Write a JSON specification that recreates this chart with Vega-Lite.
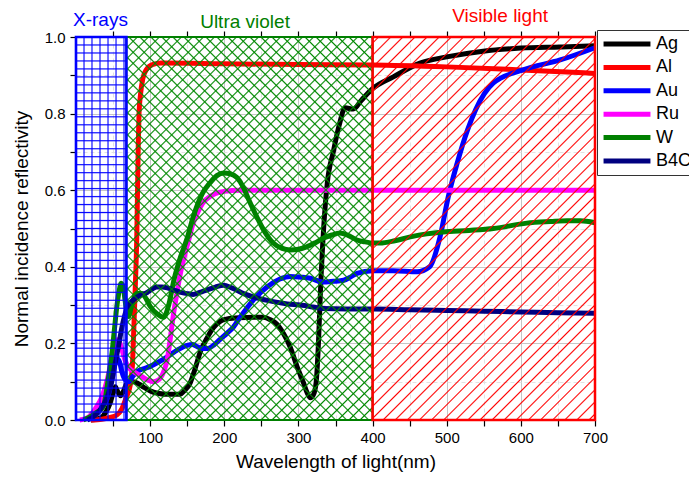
{
"$schema":"https://vega.github.io/schema/vega-lite/v6.json",
"width":519,"height":383,
"autosize":"none",
"padding":{"left":76,"top":37,"right":94,"bottom":58},
"background":"white",
"datasets":{
"curves":[
{"metal":"Ag","nm":20,"R":0},{"metal":"Ag","nm":33,"R":0.005},{"metal":"Ag","nm":40,"R":0.02},{"metal":"Ag","nm":46,"R":0.044},{"metal":"Ag","nm":50,"R":0.07},{"metal":"Ag","nm":53,"R":0.087},{"metal":"Ag","nm":56,"R":0.075},{"metal":"Ag","nm":60,"R":0.063},{"metal":"Ag","nm":64,"R":0.075},{"metal":"Ag","nm":69,"R":0.097},{"metal":"Ag","nm":77,"R":0.1},{"metal":"Ag","nm":84,"R":0.095},{"metal":"Ag","nm":91,"R":0.086},{"metal":"Ag","nm":100,"R":0.076},{"metal":"Ag","nm":110,"R":0.07},{"metal":"Ag","nm":125,"R":0.067},{"metal":"Ag","nm":140,"R":0.067},{"metal":"Ag","nm":147,"R":0.078},{"metal":"Ag","nm":154,"R":0.097},{"metal":"Ag","nm":160,"R":0.13},{"metal":"Ag","nm":168,"R":0.18},{"metal":"Ag","nm":177,"R":0.215},{"metal":"Ag","nm":185,"R":0.24},{"metal":"Ag","nm":195,"R":0.258},{"metal":"Ag","nm":204,"R":0.264},{"metal":"Ag","nm":220,"R":0.267},{"metal":"Ag","nm":240,"R":0.268},{"metal":"Ag","nm":253,"R":0.268},{"metal":"Ag","nm":262,"R":0.262},{"metal":"Ag","nm":271,"R":0.25},{"metal":"Ag","nm":280,"R":0.225},{"metal":"Ag","nm":289,"R":0.19},{"metal":"Ag","nm":298,"R":0.14},{"metal":"Ag","nm":307,"R":0.096},{"metal":"Ag","nm":312,"R":0.07},{"metal":"Ag","nm":316,"R":0.058},{"metal":"Ag","nm":320,"R":0.065},{"metal":"Ag","nm":324,"R":0.1},{"metal":"Ag","nm":327,"R":0.2},{"metal":"Ag","nm":330,"R":0.35},{"metal":"Ag","nm":334,"R":0.5},{"metal":"Ag","nm":339,"R":0.62},{"metal":"Ag","nm":347,"R":0.7},{"metal":"Ag","nm":355,"R":0.77},{"metal":"Ag","nm":363,"R":0.815},{"metal":"Ag","nm":374,"R":0.812},{"metal":"Ag","nm":385,"R":0.835},{"metal":"Ag","nm":400,"R":0.865},{"metal":"Ag","nm":428,"R":0.896},{"metal":"Ag","nm":464,"R":0.932},{"metal":"Ag","nm":500,"R":0.948},{"metal":"Ag","nm":549,"R":0.963},{"metal":"Ag","nm":600,"R":0.971},{"metal":"Ag","nm":653,"R":0.974},{"metal":"Ag","nm":700,"R":0.977},
{"metal":"Al","nm":20,"R":0},{"metal":"Al","nm":35,"R":0.002},{"metal":"Al","nm":45,"R":0.006},{"metal":"Al","nm":55,"R":0.013},{"metal":"Al","nm":62,"R":0.03},{"metal":"Al","nm":68,"R":0.06},{"metal":"Al","nm":73,"R":0.09},{"metal":"Al","nm":76,"R":0.14},{"metal":"Al","nm":78,"R":0.24},{"metal":"Al","nm":80,"R":0.35},{"metal":"Al","nm":82,"R":0.48},{"metal":"Al","nm":83,"R":0.6},{"metal":"Al","nm":84,"R":0.72},{"metal":"Al","nm":85,"R":0.8},{"metal":"Al","nm":87,"R":0.85},{"metal":"Al","nm":90,"R":0.89},{"metal":"Al","nm":95,"R":0.915},{"metal":"Al","nm":103,"R":0.928},{"metal":"Al","nm":115,"R":0.932},{"metal":"Al","nm":200,"R":0.93},{"metal":"Al","nm":300,"R":0.928},{"metal":"Al","nm":400,"R":0.927},{"metal":"Al","nm":500,"R":0.922},{"metal":"Al","nm":600,"R":0.914},{"metal":"Al","nm":700,"R":0.905},
{"metal":"Au","nm":15,"R":0},{"metal":"Au","nm":20,"R":0.008},{"metal":"Au","nm":30,"R":0.025},{"metal":"Au","nm":42,"R":0.055},{"metal":"Au","nm":48,"R":0.1},{"metal":"Au","nm":53,"R":0.15},{"metal":"Au","nm":56,"R":0.16},{"metal":"Au","nm":59,"R":0.15},{"metal":"Au","nm":62,"R":0.125},{"metal":"Au","nm":66,"R":0.106},{"metal":"Au","nm":71,"R":0.1},{"metal":"Au","nm":77,"R":0.115},{"metal":"Au","nm":82,"R":0.126},{"metal":"Au","nm":90,"R":0.133},{"metal":"Au","nm":100,"R":0.14},{"metal":"Au","nm":112,"R":0.152},{"metal":"Au","nm":123,"R":0.165},{"metal":"Au","nm":137,"R":0.183},{"metal":"Au","nm":150,"R":0.195},{"metal":"Au","nm":157,"R":0.197},{"metal":"Au","nm":163,"R":0.192},{"metal":"Au","nm":170,"R":0.187},{"metal":"Au","nm":178,"R":0.187},{"metal":"Au","nm":186,"R":0.196},{"metal":"Au","nm":194,"R":0.21},{"metal":"Au","nm":204,"R":0.227},{"metal":"Au","nm":212,"R":0.242},{"metal":"Au","nm":222,"R":0.27},{"metal":"Au","nm":240,"R":0.315},{"metal":"Au","nm":258,"R":0.348},{"metal":"Au","nm":275,"R":0.368},{"metal":"Au","nm":289,"R":0.375},{"metal":"Au","nm":303,"R":0.373},{"metal":"Au","nm":316,"R":0.37},{"metal":"Au","nm":333,"R":0.36},{"metal":"Au","nm":347,"R":0.362},{"metal":"Au","nm":361,"R":0.365},{"metal":"Au","nm":370,"R":0.373},{"metal":"Au","nm":379,"R":0.383},{"metal":"Au","nm":400,"R":0.39},{"metal":"Au","nm":428,"R":0.39},{"metal":"Au","nm":460,"R":0.387},{"metal":"Au","nm":477,"R":0.4},{"metal":"Au","nm":491,"R":0.478},{"metal":"Au","nm":502,"R":0.582},{"metal":"Au","nm":514,"R":0.67},{"metal":"Au","nm":528,"R":0.757},{"metal":"Au","nm":539,"R":0.81},{"metal":"Au","nm":563,"R":0.88},{"metal":"Au","nm":603,"R":0.914},{"metal":"Au","nm":653,"R":0.94},{"metal":"Au","nm":700,"R":0.972},
{"metal":"Ru","nm":5,"R":0},{"metal":"Ru","nm":15,"R":0.005},{"metal":"Ru","nm":28,"R":0.035},{"metal":"Ru","nm":35,"R":0.06},{"metal":"Ru","nm":42,"R":0.104},{"metal":"Ru","nm":46,"R":0.14},{"metal":"Ru","nm":50,"R":0.18},{"metal":"Ru","nm":54,"R":0.205},{"metal":"Ru","nm":57,"R":0.21},{"metal":"Ru","nm":61,"R":0.19},{"metal":"Ru","nm":66,"R":0.157},{"metal":"Ru","nm":70,"R":0.14},{"metal":"Ru","nm":75,"R":0.13},{"metal":"Ru","nm":86,"R":0.117},{"metal":"Ru","nm":96,"R":0.105},{"metal":"Ru","nm":104,"R":0.1},{"metal":"Ru","nm":110,"R":0.103},{"metal":"Ru","nm":114,"R":0.11},{"metal":"Ru","nm":119,"R":0.13},{"metal":"Ru","nm":123,"R":0.157},{"metal":"Ru","nm":127,"R":0.21},{"metal":"Ru","nm":131,"R":0.27},{"metal":"Ru","nm":136,"R":0.33},{"metal":"Ru","nm":140,"R":0.375},{"metal":"Ru","nm":145,"R":0.418},{"metal":"Ru","nm":152,"R":0.47},{"metal":"Ru","nm":158,"R":0.514},{"metal":"Ru","nm":165,"R":0.545},{"metal":"Ru","nm":171,"R":0.566},{"metal":"Ru","nm":182,"R":0.585},{"metal":"Ru","nm":194,"R":0.595},{"metal":"Ru","nm":210,"R":0.599},{"metal":"Ru","nm":222,"R":0.6},{"metal":"Ru","nm":300,"R":0.6},{"metal":"Ru","nm":400,"R":0.6},{"metal":"Ru","nm":500,"R":0.6},{"metal":"Ru","nm":600,"R":0.6},{"metal":"Ru","nm":700,"R":0.6},
{"metal":"W","nm":10,"R":0},{"metal":"W","nm":19,"R":0.008},{"metal":"W","nm":28,"R":0.02},{"metal":"W","nm":37,"R":0.035},{"metal":"W","nm":43,"R":0.1},{"metal":"W","nm":49,"R":0.183},{"metal":"W","nm":52,"R":0.24},{"metal":"W","nm":55,"R":0.295},{"metal":"W","nm":58,"R":0.335},{"metal":"W","nm":61,"R":0.357},{"metal":"W","nm":64,"R":0.345},{"metal":"W","nm":66,"R":0.315},{"metal":"W","nm":68,"R":0.29},{"metal":"W","nm":71,"R":0.27},{"metal":"W","nm":74,"R":0.29},{"metal":"W","nm":77,"R":0.313},{"metal":"W","nm":83,"R":0.33},{"metal":"W","nm":89,"R":0.33},{"metal":"W","nm":95,"R":0.315},{"metal":"W","nm":100,"R":0.297},{"metal":"W","nm":110,"R":0.276},{"metal":"W","nm":118,"R":0.268},{"metal":"W","nm":125,"R":0.3},{"metal":"W","nm":132,"R":0.365},{"metal":"W","nm":140,"R":0.42},{"metal":"W","nm":150,"R":0.475},{"metal":"W","nm":158,"R":0.53},{"metal":"W","nm":170,"R":0.59},{"metal":"W","nm":181,"R":0.62},{"metal":"W","nm":190,"R":0.638},{"metal":"W","nm":199,"R":0.645},{"metal":"W","nm":208,"R":0.643},{"metal":"W","nm":217,"R":0.633},{"metal":"W","nm":225,"R":0.61},{"metal":"W","nm":233,"R":0.575},{"metal":"W","nm":244,"R":0.53},{"metal":"W","nm":255,"R":0.49},{"metal":"W","nm":266,"R":0.462},{"metal":"W","nm":278,"R":0.448},{"metal":"W","nm":289,"R":0.444},{"metal":"W","nm":300,"R":0.446},{"metal":"W","nm":311,"R":0.452},{"metal":"W","nm":323,"R":0.463},{"metal":"W","nm":334,"R":0.475},{"metal":"W","nm":345,"R":0.483},{"metal":"W","nm":356,"R":0.488},{"metal":"W","nm":367,"R":0.482},{"metal":"W","nm":379,"R":0.47},{"metal":"W","nm":390,"R":0.465},{"metal":"W","nm":401,"R":0.462},{"metal":"W","nm":410,"R":0.462},{"metal":"W","nm":430,"R":0.468},{"metal":"W","nm":451,"R":0.478},{"metal":"W","nm":473,"R":0.486},{"metal":"W","nm":495,"R":0.491},{"metal":"W","nm":530,"R":0.495},{"metal":"W","nm":563,"R":0.5},{"metal":"W","nm":608,"R":0.514},{"metal":"W","nm":640,"R":0.518},{"metal":"W","nm":662,"R":0.52},{"metal":"W","nm":680,"R":0.52},{"metal":"W","nm":700,"R":0.515},
{"metal":"B4C","nm":15,"R":0},{"metal":"B4C","nm":23,"R":0.008},{"metal":"B4C","nm":32,"R":0.025},{"metal":"B4C","nm":42,"R":0.06},{"metal":"B4C","nm":48,"R":0.1},{"metal":"B4C","nm":53,"R":0.15},{"metal":"B4C","nm":58,"R":0.2},{"metal":"B4C","nm":62,"R":0.243},{"metal":"B4C","nm":66,"R":0.275},{"metal":"B4C","nm":69,"R":0.295},{"metal":"B4C","nm":73,"R":0.306},{"metal":"B4C","nm":77,"R":0.313},{"metal":"B4C","nm":86,"R":0.325},{"metal":"B4C","nm":96,"R":0.333},{"metal":"B4C","nm":103,"R":0.342},{"metal":"B4C","nm":109,"R":0.347},{"metal":"B4C","nm":116,"R":0.347},{"metal":"B4C","nm":123,"R":0.345},{"metal":"B4C","nm":131,"R":0.34},{"metal":"B4C","nm":140,"R":0.334},{"metal":"B4C","nm":150,"R":0.33},{"metal":"B4C","nm":158,"R":0.328},{"metal":"B4C","nm":167,"R":0.333},{"metal":"B4C","nm":177,"R":0.34},{"metal":"B4C","nm":188,"R":0.347},{"metal":"B4C","nm":199,"R":0.352},{"metal":"B4C","nm":210,"R":0.345},{"metal":"B4C","nm":226,"R":0.33},{"metal":"B4C","nm":245,"R":0.318},{"metal":"B4C","nm":266,"R":0.309},{"metal":"B4C","nm":285,"R":0.303},{"metal":"B4C","nm":302,"R":0.3},{"metal":"B4C","nm":320,"R":0.295},{"metal":"B4C","nm":333,"R":0.291},{"metal":"B4C","nm":365,"R":0.29},{"metal":"B4C","nm":401,"R":0.29},{"metal":"B4C","nm":450,"R":0.288},{"metal":"B4C","nm":500,"R":0.286},{"metal":"B4C","nm":550,"R":0.284},{"metal":"B4C","nm":600,"R":0.282},{"metal":"B4C","nm":650,"R":0.28},{"metal":"B4C","nm":700,"R":0.279}
],
"regions":[
{"region":"X-rays","start":0,"end":68,"lx":33,"ly":1.045},
{"region":"Ultra violet","start":68,"end":400,"lx":228,"ly":1.04},
{"region":"Visible light","start":400,"end":700,"lx":572,"ly":1.055}
]
},
"layer":[
{
"data":{"name":"curves"},
"mark":{"type":"line","strokeWidth":5,"interpolate":"monotone"},
"encoding":{
"x":{"field":"nm","type":"quantitative","scale":{"domain":[0,700],"nice":false},
"axis":{"orient":"bottom","values":[50,100,150,200,250,300,350,400,450,500,550,600,650,700],"labelExpr":"datum.value % 100 === 0 ? datum.label : ''","title":"Wavelength of light(nm)","titlePadding":7,"labelPadding":4,"tickSize":6,
"grid":true,"gridColor":{"condition":{"test":"datum.value % 100 !== 0","value":"#e2e2e2"},"value":"#c6c6c6"},"gridDash":{"condition":{"test":"datum.value % 100 !== 0","value":[4,3]},"value":[]}}},
"y":{"field":"R","type":"quantitative","scale":{"domain":[0,1],"nice":false},
"axis":{"orient":"left","values":[0,0.1,0.2,0.3,0.4,0.5,0.6,0.7,0.8,0.9,1],"labelExpr":"round(datum.value*10) % 2 === 0 ? format(datum.value, '.1f') : ''","title":"Normal incidence reflectivity","titlePadding":13,"labelPadding":5,"tickSize":6,
"grid":true,"gridColor":{"condition":{"test":"round(datum.value*10) % 2 !== 0","value":"#e2e2e2"},"value":"#c6c6c6"},"gridDash":{"condition":{"test":"round(datum.value*10) % 2 !== 0","value":[4,3]},"value":[]}}},
"color":{"field":"metal","type":"nominal","scale":{"domain":["Ag","Al","Au","Ru","W","B4C"],"range":["#000000","#ff0000","#0000ff","#ff00ff","#008000","#000080"]},
"legend":{"orient":"none","legendX":521,"legendY":-7,"title":null,"symbolType":"stroke","symbolSize":2200,"symbolStrokeWidth":5,"labelFontSize":18,"labelColor":"#000","labelOffset":3,"strokeColor":"#333","fillColor":"white","padding":4,"clipHeight":20,"rowPadding":3.4}}
}
},
{
"data":{"name":"regions"},
"transform":[{"filter":"datum.region === 'Ultra violet'"}],
"mark":{"type":"rect","strokeWidth":0,"fill":{"gradient":"linear","x1":0,"y1":0,"x2":0.7473,"y2":1.1625,"stops":[
{"offset":0.015,"color":"#0800"},{"offset":0.0175,"color":"#080"},{"offset":0.02,"color":"#0800"},
{"offset":0.0325,"color":"#0800"},{"offset":0.035,"color":"#080"},{"offset":0.0375,"color":"#0800"},
{"offset":0.05,"color":"#0800"},{"offset":0.0525,"color":"#080"},{"offset":0.055,"color":"#0800"},
{"offset":0.0675,"color":"#0800"},{"offset":0.07,"color":"#080"},{"offset":0.0725,"color":"#0800"},
{"offset":0.085,"color":"#0800"},{"offset":0.0875,"color":"#080"},{"offset":0.09,"color":"#0800"},
{"offset":0.1025,"color":"#0800"},{"offset":0.105,"color":"#080"},{"offset":0.1075,"color":"#0800"},
{"offset":0.12,"color":"#0800"},{"offset":0.1225,"color":"#080"},{"offset":0.125,"color":"#0800"},
{"offset":0.1375,"color":"#0800"},{"offset":0.14,"color":"#080"},{"offset":0.1425,"color":"#0800"},
{"offset":0.155,"color":"#0800"},{"offset":0.1575,"color":"#080"},{"offset":0.16,"color":"#0800"},
{"offset":0.1725,"color":"#0800"},{"offset":0.175,"color":"#080"},{"offset":0.1775,"color":"#0800"},
{"offset":0.19,"color":"#0800"},{"offset":0.1925,"color":"#080"},{"offset":0.195,"color":"#0800"},
{"offset":0.2075,"color":"#0800"},{"offset":0.21,"color":"#080"},{"offset":0.2125,"color":"#0800"},
{"offset":0.225,"color":"#0800"},{"offset":0.2275,"color":"#080"},{"offset":0.23,"color":"#0800"},
{"offset":0.2425,"color":"#0800"},{"offset":0.245,"color":"#080"},{"offset":0.2475,"color":"#0800"},
{"offset":0.26,"color":"#0800"},{"offset":0.2625,"color":"#080"},{"offset":0.265,"color":"#0800"},
{"offset":0.2775,"color":"#0800"},{"offset":0.28,"color":"#080"},{"offset":0.2825,"color":"#0800"},
{"offset":0.295,"color":"#0800"},{"offset":0.2975,"color":"#080"},{"offset":0.3,"color":"#0800"},
{"offset":0.3125,"color":"#0800"},{"offset":0.315,"color":"#080"},{"offset":0.3175,"color":"#0800"},
{"offset":0.33,"color":"#0800"},{"offset":0.3325,"color":"#080"},{"offset":0.335,"color":"#0800"},
{"offset":0.3475,"color":"#0800"},{"offset":0.35,"color":"#080"},{"offset":0.3525,"color":"#0800"},
{"offset":0.365,"color":"#0800"},{"offset":0.3675,"color":"#080"},{"offset":0.37,"color":"#0800"},
{"offset":0.3825,"color":"#0800"},{"offset":0.385,"color":"#080"},{"offset":0.3875,"color":"#0800"},
{"offset":0.4,"color":"#0800"},{"offset":0.4025,"color":"#080"},{"offset":0.405,"color":"#0800"},
{"offset":0.4175,"color":"#0800"},{"offset":0.42,"color":"#080"},{"offset":0.4225,"color":"#0800"},
{"offset":0.435,"color":"#0800"},{"offset":0.4375,"color":"#080"},{"offset":0.44,"color":"#0800"},
{"offset":0.4525,"color":"#0800"},{"offset":0.455,"color":"#080"},{"offset":0.4575,"color":"#0800"},
{"offset":0.47,"color":"#0800"},{"offset":0.4725,"color":"#080"},{"offset":0.475,"color":"#0800"},
{"offset":0.4875,"color":"#0800"},{"offset":0.49,"color":"#080"},{"offset":0.4925,"color":"#0800"},
{"offset":0.505,"color":"#0800"},{"offset":0.5075,"color":"#080"},{"offset":0.51,"color":"#0800"},
{"offset":0.5225,"color":"#0800"},{"offset":0.525,"color":"#080"},{"offset":0.5275,"color":"#0800"},
{"offset":0.54,"color":"#0800"},{"offset":0.5425,"color":"#080"},{"offset":0.545,"color":"#0800"},
{"offset":0.5575,"color":"#0800"},{"offset":0.56,"color":"#080"},{"offset":0.5625,"color":"#0800"},
{"offset":0.575,"color":"#0800"},{"offset":0.5775,"color":"#080"},{"offset":0.58,"color":"#0800"},
{"offset":0.5925,"color":"#0800"},{"offset":0.595,"color":"#080"},{"offset":0.5975,"color":"#0800"},
{"offset":0.61,"color":"#0800"},{"offset":0.6125,"color":"#080"},{"offset":0.615,"color":"#0800"},
{"offset":0.6275,"color":"#0800"},{"offset":0.63,"color":"#080"},{"offset":0.6325,"color":"#0800"},
{"offset":0.645,"color":"#0800"},{"offset":0.6475,"color":"#080"},{"offset":0.65,"color":"#0800"},
{"offset":0.6625,"color":"#0800"},{"offset":0.665,"color":"#080"},{"offset":0.6675,"color":"#0800"},
{"offset":0.68,"color":"#0800"},{"offset":0.6825,"color":"#080"},{"offset":0.685,"color":"#0800"},
{"offset":0.6975,"color":"#0800"},{"offset":0.7,"color":"#080"},{"offset":0.7025,"color":"#0800"},
{"offset":0.715,"color":"#0800"},{"offset":0.7175,"color":"#080"},{"offset":0.72,"color":"#0800"},
{"offset":0.7325,"color":"#0800"},{"offset":0.735,"color":"#080"},{"offset":0.7375,"color":"#0800"},
{"offset":0.75,"color":"#0800"},{"offset":0.7525,"color":"#080"},{"offset":0.755,"color":"#0800"},
{"offset":0.7675,"color":"#0800"},{"offset":0.77,"color":"#080"},{"offset":0.7725,"color":"#0800"},
{"offset":0.785,"color":"#0800"},{"offset":0.7875,"color":"#080"},{"offset":0.79,"color":"#0800"},
{"offset":0.8025,"color":"#0800"},{"offset":0.805,"color":"#080"},{"offset":0.8075,"color":"#0800"},
{"offset":0.82,"color":"#0800"},{"offset":0.8225,"color":"#080"},{"offset":0.825,"color":"#0800"},
{"offset":0.8375,"color":"#0800"},{"offset":0.84,"color":"#080"},{"offset":0.8425,"color":"#0800"},
{"offset":0.855,"color":"#0800"},{"offset":0.8575,"color":"#080"},{"offset":0.86,"color":"#0800"},
{"offset":0.8725,"color":"#0800"},{"offset":0.875,"color":"#080"},{"offset":0.8775,"color":"#0800"},
{"offset":0.89,"color":"#0800"},{"offset":0.8925,"color":"#080"},{"offset":0.895,"color":"#0800"},
{"offset":0.9075,"color":"#0800"},{"offset":0.91,"color":"#080"},{"offset":0.9125,"color":"#0800"},
{"offset":0.925,"color":"#0800"},{"offset":0.9275,"color":"#080"},{"offset":0.93,"color":"#0800"},
{"offset":0.9425,"color":"#0800"},{"offset":0.945,"color":"#080"},{"offset":0.9475,"color":"#0800"},
{"offset":0.96,"color":"#0800"},{"offset":0.9625,"color":"#080"},{"offset":0.965,"color":"#0800"},
{"offset":0.9775,"color":"#0800"},{"offset":0.98,"color":"#080"},{"offset":0.9825,"color":"#0800"},
{"offset":0.995,"color":"#0800"},{"offset":0.9975,"color":"#080"},{"offset":1,"color":"#0800"}
]}},
"encoding":{
"x":{"field":"start","type":"quantitative","scale":{"domain":[0,700],"nice":false},"axis":null},
"x2":{"field":"end"},
"y":{"datum":0,"type":"quantitative","scale":{"domain":[0,1],"nice":false},"axis":null},
"y2":{"datum":1}
}
},
{
"data":{"name":"regions"},
"transform":[{"filter":"datum.region === 'Ultra violet'"}],
"mark":{"type":"rect","stroke":"#008000","strokeWidth":1.8,"fill":{"gradient":"linear","x1":0,"y1":1,"x2":0.7473,"y2":-0.1625,"stops":[
{"offset":0.015,"color":"#0800"},{"offset":0.0175,"color":"#080"},{"offset":0.02,"color":"#0800"},
{"offset":0.0325,"color":"#0800"},{"offset":0.035,"color":"#080"},{"offset":0.0375,"color":"#0800"},
{"offset":0.05,"color":"#0800"},{"offset":0.0525,"color":"#080"},{"offset":0.055,"color":"#0800"},
{"offset":0.0675,"color":"#0800"},{"offset":0.07,"color":"#080"},{"offset":0.0725,"color":"#0800"},
{"offset":0.085,"color":"#0800"},{"offset":0.0875,"color":"#080"},{"offset":0.09,"color":"#0800"},
{"offset":0.1025,"color":"#0800"},{"offset":0.105,"color":"#080"},{"offset":0.1075,"color":"#0800"},
{"offset":0.12,"color":"#0800"},{"offset":0.1225,"color":"#080"},{"offset":0.125,"color":"#0800"},
{"offset":0.1375,"color":"#0800"},{"offset":0.14,"color":"#080"},{"offset":0.1425,"color":"#0800"},
{"offset":0.155,"color":"#0800"},{"offset":0.1575,"color":"#080"},{"offset":0.16,"color":"#0800"},
{"offset":0.1725,"color":"#0800"},{"offset":0.175,"color":"#080"},{"offset":0.1775,"color":"#0800"},
{"offset":0.19,"color":"#0800"},{"offset":0.1925,"color":"#080"},{"offset":0.195,"color":"#0800"},
{"offset":0.2075,"color":"#0800"},{"offset":0.21,"color":"#080"},{"offset":0.2125,"color":"#0800"},
{"offset":0.225,"color":"#0800"},{"offset":0.2275,"color":"#080"},{"offset":0.23,"color":"#0800"},
{"offset":0.2425,"color":"#0800"},{"offset":0.245,"color":"#080"},{"offset":0.2475,"color":"#0800"},
{"offset":0.26,"color":"#0800"},{"offset":0.2625,"color":"#080"},{"offset":0.265,"color":"#0800"},
{"offset":0.2775,"color":"#0800"},{"offset":0.28,"color":"#080"},{"offset":0.2825,"color":"#0800"},
{"offset":0.295,"color":"#0800"},{"offset":0.2975,"color":"#080"},{"offset":0.3,"color":"#0800"},
{"offset":0.3125,"color":"#0800"},{"offset":0.315,"color":"#080"},{"offset":0.3175,"color":"#0800"},
{"offset":0.33,"color":"#0800"},{"offset":0.3325,"color":"#080"},{"offset":0.335,"color":"#0800"},
{"offset":0.3475,"color":"#0800"},{"offset":0.35,"color":"#080"},{"offset":0.3525,"color":"#0800"},
{"offset":0.365,"color":"#0800"},{"offset":0.3675,"color":"#080"},{"offset":0.37,"color":"#0800"},
{"offset":0.3825,"color":"#0800"},{"offset":0.385,"color":"#080"},{"offset":0.3875,"color":"#0800"},
{"offset":0.4,"color":"#0800"},{"offset":0.4025,"color":"#080"},{"offset":0.405,"color":"#0800"},
{"offset":0.4175,"color":"#0800"},{"offset":0.42,"color":"#080"},{"offset":0.4225,"color":"#0800"},
{"offset":0.435,"color":"#0800"},{"offset":0.4375,"color":"#080"},{"offset":0.44,"color":"#0800"},
{"offset":0.4525,"color":"#0800"},{"offset":0.455,"color":"#080"},{"offset":0.4575,"color":"#0800"},
{"offset":0.47,"color":"#0800"},{"offset":0.4725,"color":"#080"},{"offset":0.475,"color":"#0800"},
{"offset":0.4875,"color":"#0800"},{"offset":0.49,"color":"#080"},{"offset":0.4925,"color":"#0800"},
{"offset":0.505,"color":"#0800"},{"offset":0.5075,"color":"#080"},{"offset":0.51,"color":"#0800"},
{"offset":0.5225,"color":"#0800"},{"offset":0.525,"color":"#080"},{"offset":0.5275,"color":"#0800"},
{"offset":0.54,"color":"#0800"},{"offset":0.5425,"color":"#080"},{"offset":0.545,"color":"#0800"},
{"offset":0.5575,"color":"#0800"},{"offset":0.56,"color":"#080"},{"offset":0.5625,"color":"#0800"},
{"offset":0.575,"color":"#0800"},{"offset":0.5775,"color":"#080"},{"offset":0.58,"color":"#0800"},
{"offset":0.5925,"color":"#0800"},{"offset":0.595,"color":"#080"},{"offset":0.5975,"color":"#0800"},
{"offset":0.61,"color":"#0800"},{"offset":0.6125,"color":"#080"},{"offset":0.615,"color":"#0800"},
{"offset":0.6275,"color":"#0800"},{"offset":0.63,"color":"#080"},{"offset":0.6325,"color":"#0800"},
{"offset":0.645,"color":"#0800"},{"offset":0.6475,"color":"#080"},{"offset":0.65,"color":"#0800"},
{"offset":0.6625,"color":"#0800"},{"offset":0.665,"color":"#080"},{"offset":0.6675,"color":"#0800"},
{"offset":0.68,"color":"#0800"},{"offset":0.6825,"color":"#080"},{"offset":0.685,"color":"#0800"},
{"offset":0.6975,"color":"#0800"},{"offset":0.7,"color":"#080"},{"offset":0.7025,"color":"#0800"},
{"offset":0.715,"color":"#0800"},{"offset":0.7175,"color":"#080"},{"offset":0.72,"color":"#0800"},
{"offset":0.7325,"color":"#0800"},{"offset":0.735,"color":"#080"},{"offset":0.7375,"color":"#0800"},
{"offset":0.75,"color":"#0800"},{"offset":0.7525,"color":"#080"},{"offset":0.755,"color":"#0800"},
{"offset":0.7675,"color":"#0800"},{"offset":0.77,"color":"#080"},{"offset":0.7725,"color":"#0800"},
{"offset":0.785,"color":"#0800"},{"offset":0.7875,"color":"#080"},{"offset":0.79,"color":"#0800"},
{"offset":0.8025,"color":"#0800"},{"offset":0.805,"color":"#080"},{"offset":0.8075,"color":"#0800"},
{"offset":0.82,"color":"#0800"},{"offset":0.8225,"color":"#080"},{"offset":0.825,"color":"#0800"},
{"offset":0.8375,"color":"#0800"},{"offset":0.84,"color":"#080"},{"offset":0.8425,"color":"#0800"},
{"offset":0.855,"color":"#0800"},{"offset":0.8575,"color":"#080"},{"offset":0.86,"color":"#0800"},
{"offset":0.8725,"color":"#0800"},{"offset":0.875,"color":"#080"},{"offset":0.8775,"color":"#0800"},
{"offset":0.89,"color":"#0800"},{"offset":0.8925,"color":"#080"},{"offset":0.895,"color":"#0800"},
{"offset":0.9075,"color":"#0800"},{"offset":0.91,"color":"#080"},{"offset":0.9125,"color":"#0800"},
{"offset":0.925,"color":"#0800"},{"offset":0.9275,"color":"#080"},{"offset":0.93,"color":"#0800"},
{"offset":0.9425,"color":"#0800"},{"offset":0.945,"color":"#080"},{"offset":0.9475,"color":"#0800"},
{"offset":0.96,"color":"#0800"},{"offset":0.9625,"color":"#080"},{"offset":0.965,"color":"#0800"},
{"offset":0.9775,"color":"#0800"},{"offset":0.98,"color":"#080"},{"offset":0.9825,"color":"#0800"},
{"offset":0.995,"color":"#0800"},{"offset":0.9975,"color":"#080"},{"offset":1,"color":"#0800"}
]}},
"encoding":{
"x":{"field":"start","type":"quantitative","scale":{"domain":[0,700],"nice":false},"axis":null},
"x2":{"field":"end"},
"y":{"datum":0,"type":"quantitative","scale":{"domain":[0,1],"nice":false},"axis":null},
"y2":{"datum":1}
}
},
{
"data":{"name":"regions"},
"transform":[{"filter":"datum.region === 'Visible light'"}],
"mark":{"type":"rect","stroke":"#ff0000","strokeWidth":2.5,"fill":{"gradient":"linear","x1":0,"y1":0,"x2":0.6864,"y2":1.1821,"stops":[
{"offset":0.0075,"color":"#f000"},{"offset":0.01,"color":"#f00"},{"offset":0.0125,"color":"#f000"},
{"offset":0.0275,"color":"#f000"},{"offset":0.03,"color":"#f00"},{"offset":0.0325,"color":"#f000"},
{"offset":0.0475,"color":"#f000"},{"offset":0.05,"color":"#f00"},{"offset":0.0525,"color":"#f000"},
{"offset":0.0675,"color":"#f000"},{"offset":0.07,"color":"#f00"},{"offset":0.0725,"color":"#f000"},
{"offset":0.0875,"color":"#f000"},{"offset":0.09,"color":"#f00"},{"offset":0.0925,"color":"#f000"},
{"offset":0.1075,"color":"#f000"},{"offset":0.11,"color":"#f00"},{"offset":0.1125,"color":"#f000"},
{"offset":0.1275,"color":"#f000"},{"offset":0.13,"color":"#f00"},{"offset":0.1325,"color":"#f000"},
{"offset":0.1475,"color":"#f000"},{"offset":0.15,"color":"#f00"},{"offset":0.1525,"color":"#f000"},
{"offset":0.1675,"color":"#f000"},{"offset":0.17,"color":"#f00"},{"offset":0.1725,"color":"#f000"},
{"offset":0.1875,"color":"#f000"},{"offset":0.19,"color":"#f00"},{"offset":0.1925,"color":"#f000"},
{"offset":0.2075,"color":"#f000"},{"offset":0.21,"color":"#f00"},{"offset":0.2125,"color":"#f000"},
{"offset":0.2275,"color":"#f000"},{"offset":0.23,"color":"#f00"},{"offset":0.2325,"color":"#f000"},
{"offset":0.2475,"color":"#f000"},{"offset":0.25,"color":"#f00"},{"offset":0.2525,"color":"#f000"},
{"offset":0.2675,"color":"#f000"},{"offset":0.27,"color":"#f00"},{"offset":0.2725,"color":"#f000"},
{"offset":0.2875,"color":"#f000"},{"offset":0.29,"color":"#f00"},{"offset":0.2925,"color":"#f000"},
{"offset":0.3075,"color":"#f000"},{"offset":0.31,"color":"#f00"},{"offset":0.3125,"color":"#f000"},
{"offset":0.3275,"color":"#f000"},{"offset":0.33,"color":"#f00"},{"offset":0.3325,"color":"#f000"},
{"offset":0.3475,"color":"#f000"},{"offset":0.35,"color":"#f00"},{"offset":0.3525,"color":"#f000"},
{"offset":0.3675,"color":"#f000"},{"offset":0.37,"color":"#f00"},{"offset":0.3725,"color":"#f000"},
{"offset":0.3875,"color":"#f000"},{"offset":0.39,"color":"#f00"},{"offset":0.3925,"color":"#f000"},
{"offset":0.4075,"color":"#f000"},{"offset":0.41,"color":"#f00"},{"offset":0.4125,"color":"#f000"},
{"offset":0.4275,"color":"#f000"},{"offset":0.43,"color":"#f00"},{"offset":0.4325,"color":"#f000"},
{"offset":0.4475,"color":"#f000"},{"offset":0.45,"color":"#f00"},{"offset":0.4525,"color":"#f000"},
{"offset":0.4675,"color":"#f000"},{"offset":0.47,"color":"#f00"},{"offset":0.4725,"color":"#f000"},
{"offset":0.4875,"color":"#f000"},{"offset":0.49,"color":"#f00"},{"offset":0.4925,"color":"#f000"},
{"offset":0.5075,"color":"#f000"},{"offset":0.51,"color":"#f00"},{"offset":0.5125,"color":"#f000"},
{"offset":0.5275,"color":"#f000"},{"offset":0.53,"color":"#f00"},{"offset":0.5325,"color":"#f000"},
{"offset":0.5475,"color":"#f000"},{"offset":0.55,"color":"#f00"},{"offset":0.5525,"color":"#f000"},
{"offset":0.5675,"color":"#f000"},{"offset":0.57,"color":"#f00"},{"offset":0.5725,"color":"#f000"},
{"offset":0.5875,"color":"#f000"},{"offset":0.59,"color":"#f00"},{"offset":0.5925,"color":"#f000"},
{"offset":0.6075,"color":"#f000"},{"offset":0.61,"color":"#f00"},{"offset":0.6125,"color":"#f000"},
{"offset":0.6275,"color":"#f000"},{"offset":0.63,"color":"#f00"},{"offset":0.6325,"color":"#f000"},
{"offset":0.6475,"color":"#f000"},{"offset":0.65,"color":"#f00"},{"offset":0.6525,"color":"#f000"},
{"offset":0.6675,"color":"#f000"},{"offset":0.67,"color":"#f00"},{"offset":0.6725,"color":"#f000"},
{"offset":0.6875,"color":"#f000"},{"offset":0.69,"color":"#f00"},{"offset":0.6925,"color":"#f000"},
{"offset":0.7075,"color":"#f000"},{"offset":0.71,"color":"#f00"},{"offset":0.7125,"color":"#f000"},
{"offset":0.7275,"color":"#f000"},{"offset":0.73,"color":"#f00"},{"offset":0.7325,"color":"#f000"},
{"offset":0.7475,"color":"#f000"},{"offset":0.75,"color":"#f00"},{"offset":0.7525,"color":"#f000"},
{"offset":0.7675,"color":"#f000"},{"offset":0.77,"color":"#f00"},{"offset":0.7725,"color":"#f000"},
{"offset":0.7875,"color":"#f000"},{"offset":0.79,"color":"#f00"},{"offset":0.7925,"color":"#f000"},
{"offset":0.8075,"color":"#f000"},{"offset":0.81,"color":"#f00"},{"offset":0.8125,"color":"#f000"},
{"offset":0.8275,"color":"#f000"},{"offset":0.83,"color":"#f00"},{"offset":0.8325,"color":"#f000"},
{"offset":0.8475,"color":"#f000"},{"offset":0.85,"color":"#f00"},{"offset":0.8525,"color":"#f000"},
{"offset":0.8675,"color":"#f000"},{"offset":0.87,"color":"#f00"},{"offset":0.8725,"color":"#f000"},
{"offset":0.8875,"color":"#f000"},{"offset":0.89,"color":"#f00"},{"offset":0.8925,"color":"#f000"},
{"offset":0.9075,"color":"#f000"},{"offset":0.91,"color":"#f00"},{"offset":0.9125,"color":"#f000"},
{"offset":0.9275,"color":"#f000"},{"offset":0.93,"color":"#f00"},{"offset":0.9325,"color":"#f000"},
{"offset":0.9475,"color":"#f000"},{"offset":0.95,"color":"#f00"},{"offset":0.9525,"color":"#f000"},
{"offset":0.9675,"color":"#f000"},{"offset":0.97,"color":"#f00"},{"offset":0.9725,"color":"#f000"},
{"offset":0.9875,"color":"#f000"},{"offset":0.99,"color":"#f00"},{"offset":0.9925,"color":"#f000"}
]}},
"encoding":{
"x":{"field":"start","type":"quantitative","scale":{"domain":[0,700],"nice":false},"axis":null},
"x2":{"field":"end"},
"y":{"datum":0,"type":"quantitative","scale":{"domain":[0,1],"nice":false},"axis":null},
"y2":{"datum":1}
}
},
{
"data":{"name":"regions"},
"transform":[{"filter":"datum.region === 'X-rays'"}],
"mark":{"type":"rect","strokeWidth":0,"fill":{"gradient":"linear","x1":0,"y1":0,"x2":0,"y2":1,"stops":[
{"offset":0.0178,"color":"#00f0"},{"offset":0.0208,"color":"#00f"},{"offset":0.0238,"color":"#00f0"},
{"offset":0.0387,"color":"#00f0"},{"offset":0.0417,"color":"#00f"},{"offset":0.0447,"color":"#00f0"},
{"offset":0.0595,"color":"#00f0"},{"offset":0.0625,"color":"#00f"},{"offset":0.0655,"color":"#00f0"},
{"offset":0.0803,"color":"#00f0"},{"offset":0.0833,"color":"#00f"},{"offset":0.0863,"color":"#00f0"},
{"offset":0.1012,"color":"#00f0"},{"offset":0.1042,"color":"#00f"},{"offset":0.1072,"color":"#00f0"},
{"offset":0.122,"color":"#00f0"},{"offset":0.125,"color":"#00f"},{"offset":0.128,"color":"#00f0"},
{"offset":0.1428,"color":"#00f0"},{"offset":0.1458,"color":"#00f"},{"offset":0.1488,"color":"#00f0"},
{"offset":0.1637,"color":"#00f0"},{"offset":0.1667,"color":"#00f"},{"offset":0.1697,"color":"#00f0"},
{"offset":0.1845,"color":"#00f0"},{"offset":0.1875,"color":"#00f"},{"offset":0.1905,"color":"#00f0"},
{"offset":0.2053,"color":"#00f0"},{"offset":0.2083,"color":"#00f"},{"offset":0.2113,"color":"#00f0"},
{"offset":0.2262,"color":"#00f0"},{"offset":0.2292,"color":"#00f"},{"offset":0.2322,"color":"#00f0"},
{"offset":0.247,"color":"#00f0"},{"offset":0.25,"color":"#00f"},{"offset":0.253,"color":"#00f0"},
{"offset":0.2678,"color":"#00f0"},{"offset":0.2708,"color":"#00f"},{"offset":0.2738,"color":"#00f0"},
{"offset":0.2887,"color":"#00f0"},{"offset":0.2917,"color":"#00f"},{"offset":0.2947,"color":"#00f0"},
{"offset":0.3095,"color":"#00f0"},{"offset":0.3125,"color":"#00f"},{"offset":0.3155,"color":"#00f0"},
{"offset":0.3303,"color":"#00f0"},{"offset":0.3333,"color":"#00f"},{"offset":0.3363,"color":"#00f0"},
{"offset":0.3512,"color":"#00f0"},{"offset":0.3542,"color":"#00f"},{"offset":0.3572,"color":"#00f0"},
{"offset":0.372,"color":"#00f0"},{"offset":0.375,"color":"#00f"},{"offset":0.378,"color":"#00f0"},
{"offset":0.3928,"color":"#00f0"},{"offset":0.3958,"color":"#00f"},{"offset":0.3988,"color":"#00f0"},
{"offset":0.4137,"color":"#00f0"},{"offset":0.4167,"color":"#00f"},{"offset":0.4197,"color":"#00f0"},
{"offset":0.4345,"color":"#00f0"},{"offset":0.4375,"color":"#00f"},{"offset":0.4405,"color":"#00f0"},
{"offset":0.4553,"color":"#00f0"},{"offset":0.4583,"color":"#00f"},{"offset":0.4613,"color":"#00f0"},
{"offset":0.4762,"color":"#00f0"},{"offset":0.4792,"color":"#00f"},{"offset":0.4822,"color":"#00f0"},
{"offset":0.497,"color":"#00f0"},{"offset":0.5,"color":"#00f"},{"offset":0.503,"color":"#00f0"},
{"offset":0.5178,"color":"#00f0"},{"offset":0.5208,"color":"#00f"},{"offset":0.5238,"color":"#00f0"},
{"offset":0.5387,"color":"#00f0"},{"offset":0.5417,"color":"#00f"},{"offset":0.5447,"color":"#00f0"},
{"offset":0.5595,"color":"#00f0"},{"offset":0.5625,"color":"#00f"},{"offset":0.5655,"color":"#00f0"},
{"offset":0.5803,"color":"#00f0"},{"offset":0.5833,"color":"#00f"},{"offset":0.5863,"color":"#00f0"},
{"offset":0.6012,"color":"#00f0"},{"offset":0.6042,"color":"#00f"},{"offset":0.6072,"color":"#00f0"},
{"offset":0.622,"color":"#00f0"},{"offset":0.625,"color":"#00f"},{"offset":0.628,"color":"#00f0"},
{"offset":0.6428,"color":"#00f0"},{"offset":0.6458,"color":"#00f"},{"offset":0.6488,"color":"#00f0"},
{"offset":0.6637,"color":"#00f0"},{"offset":0.6667,"color":"#00f"},{"offset":0.6697,"color":"#00f0"},
{"offset":0.6845,"color":"#00f0"},{"offset":0.6875,"color":"#00f"},{"offset":0.6905,"color":"#00f0"},
{"offset":0.7053,"color":"#00f0"},{"offset":0.7083,"color":"#00f"},{"offset":0.7113,"color":"#00f0"},
{"offset":0.7262,"color":"#00f0"},{"offset":0.7292,"color":"#00f"},{"offset":0.7322,"color":"#00f0"},
{"offset":0.747,"color":"#00f0"},{"offset":0.75,"color":"#00f"},{"offset":0.753,"color":"#00f0"},
{"offset":0.7678,"color":"#00f0"},{"offset":0.7708,"color":"#00f"},{"offset":0.7738,"color":"#00f0"},
{"offset":0.7887,"color":"#00f0"},{"offset":0.7917,"color":"#00f"},{"offset":0.7947,"color":"#00f0"},
{"offset":0.8095,"color":"#00f0"},{"offset":0.8125,"color":"#00f"},{"offset":0.8155,"color":"#00f0"},
{"offset":0.8303,"color":"#00f0"},{"offset":0.8333,"color":"#00f"},{"offset":0.8363,"color":"#00f0"},
{"offset":0.8512,"color":"#00f0"},{"offset":0.8542,"color":"#00f"},{"offset":0.8572,"color":"#00f0"},
{"offset":0.872,"color":"#00f0"},{"offset":0.875,"color":"#00f"},{"offset":0.878,"color":"#00f0"},
{"offset":0.8928,"color":"#00f0"},{"offset":0.8958,"color":"#00f"},{"offset":0.8988,"color":"#00f0"},
{"offset":0.9137,"color":"#00f0"},{"offset":0.9167,"color":"#00f"},{"offset":0.9197,"color":"#00f0"},
{"offset":0.9345,"color":"#00f0"},{"offset":0.9375,"color":"#00f"},{"offset":0.9405,"color":"#00f0"},
{"offset":0.9553,"color":"#00f0"},{"offset":0.9583,"color":"#00f"},{"offset":0.9613,"color":"#00f0"},
{"offset":0.9762,"color":"#00f0"},{"offset":0.9792,"color":"#00f"},{"offset":0.9822,"color":"#00f0"}
]}},
"encoding":{
"x":{"field":"start","type":"quantitative","scale":{"domain":[0,700],"nice":false},"axis":null},
"x2":{"field":"end"},
"y":{"datum":0,"type":"quantitative","scale":{"domain":[0,1],"nice":false},"axis":null},
"y2":{"datum":1}
}
},
{
"data":{"name":"regions"},
"transform":[{"filter":"datum.region === 'X-rays'"}],
"mark":{"type":"rect","stroke":"#0000ff","strokeWidth":2.6,"fill":{"gradient":"linear","x1":0,"y1":0,"x2":1,"y2":0,"stops":[
{"offset":0.137,"color":"#00f0"},{"offset":0.159,"color":"#00f"},{"offset":0.181,"color":"#00f0"},
{"offset":0.295,"color":"#00f0"},{"offset":0.317,"color":"#00f"},{"offset":0.339,"color":"#00f0"},
{"offset":0.454,"color":"#00f0"},{"offset":0.476,"color":"#00f"},{"offset":0.498,"color":"#00f0"},
{"offset":0.613,"color":"#00f0"},{"offset":0.635,"color":"#00f"},{"offset":0.657,"color":"#00f0"},
{"offset":0.772,"color":"#00f0"},{"offset":0.794,"color":"#00f"},{"offset":0.816,"color":"#00f0"},
{"offset":0.93,"color":"#00f0"},{"offset":0.952,"color":"#00f"},{"offset":0.974,"color":"#00f0"}
]}},
"encoding":{
"x":{"field":"start","type":"quantitative","scale":{"domain":[0,700],"nice":false},"axis":null},
"x2":{"field":"end"},
"y":{"datum":0,"type":"quantitative","scale":{"domain":[0,1],"nice":false},"axis":null},
"y2":{"datum":1}
}
},
{
"data":{"name":"regions"},
"mark":{"type":"text","fontSize":19,"align":"center","baseline":"middle"},
"encoding":{
"x":{"field":"lx","type":"quantitative","scale":{"domain":[0,700],"nice":false},
"axis":{"orient":"top","values":[50,100,150,200,250,300,350,400,450,500,550,600,650,700],"labels":false,"title":null,"grid":false,"tickSize":6}},
"y":{"field":"ly","type":"quantitative","scale":{"domain":[0,1],"nice":false},"axis":null},
"text":{"field":"region"},
"fill":{"field":"region","type":"nominal","scale":{"domain":["X-rays","Ultra violet","Visible light"],"range":["#0000ff","#008000","#ff0000"]},"legend":null}
}
}
],
"resolve":{"axis":{"x":"independent","y":"independent"}},
"config":{
"font":"Liberation Sans",
"view":{"stroke":null},
"axis":{"labelFontSize":15,"titleFontSize":19,"titleFontWeight":"normal","labelColor":"#000","titleColor":"#000","tickColor":"#000","tickWidth":1.2,"domain":false,"labelFlush":false,"labelOverlap":false}
}
}
